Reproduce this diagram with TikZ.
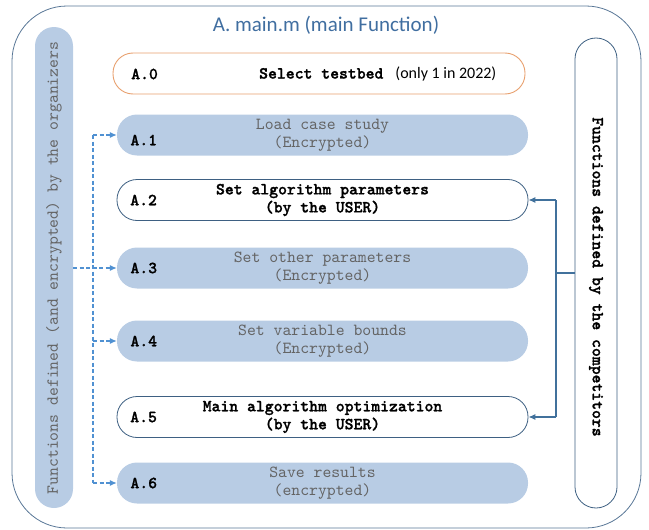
\documentclass[tikz,border=0pt]{standalone}
\usepackage{fontspec}
\setmainfont{Carlito}
\setmonofont{lmmono10-regular.otf}[BoldFont=lmmonolt10-bold.otf, BoldFeatures={FakeBold=1.2}]
\usetikzlibrary{calc,arrows.meta}
\definecolor{framecol}{RGB}{88,118,150}
\definecolor{titlecol}{RGB}{64,110,160}
\definecolor{stagefill}{RGB}{184,204,228}
\definecolor{usercol}{RGB}{62,96,130}
\definecolor{orangecol}{RGB}{232,160,110}
\definecolor{dashcol}{RGB}{80,145,210}
\definecolor{linkcol}{RGB}{65,113,156}
\definecolor{greytext}{RGB}{100,100,100}
\newcommand{\monotext}{\fontsize{16.9}{18}\selectfont\ttfamily}
\newcommand{\stagelbl}[2]{\node[lbl] (l#1) at ($(a#1.west)+(27,0)$) {#2};}

\tikzset{
  stagebox/.style={fill=stagefill, rounded corners=20pt, minimum width=411pt,
    minimum height=41pt, inner sep=0pt, align=center, font=\monotext, text=greytext},
  userbox/.style={stagebox, fill=white, draw=usercol, line width=0.8pt,
    text=black, font=\monotext\bfseries},
  lbl/.style={font=\monotext\bfseries, text=black, inner sep=0pt},
  dashlink/.style={dashcol, line width=1.1pt, dash pattern=on 4pt off 2.5pt},
  solidlink/.style={linkcol, line width=1.2pt}
}

\begin{document}
\begin{tikzpicture}[x=1pt, y=-1pt, >={Latex[length=7pt,width=6pt]}]
        \useasboundingbox (0,0) rectangle (649,530);
        % frame and title
        \node[draw=framecol, line width=0.8pt, rounded corners=55pt, minimum width=629pt,
          minimum height=522pt, inner sep=0pt] (mainfn) at (326.5,267) {};
        \node[font=\fontsize{21}{24}\selectfont, text=titlecol] (title) at (326,25) {A. main.m (main Function)};
        % side bars
        \node[fill=stagefill, rounded corners=19pt, minimum width=38pt, minimum height=481pt,
          inner sep=0pt] (orgbar) at (54,267.5) {};
        \node[rotate=90, font=\monotext, text=greytext] (orgtext) at (54,268)
          {Functions defined (and encrypted) by the organizers};
        \node[draw=usercol, line width=0.8pt, rounded corners=21pt, minimum width=42pt,
          minimum height=470pt, inner sep=0pt] (compbar) at (596,273) {};
        \node[rotate=-90, font=\monotext\bfseries] (comptext) at (596,277)
          {Functions defined by the competitors};
        % stages
        \node[stagebox, fill=white, draw=orangecol, line width=0.9pt, minimum width=412pt] (a0) at (319,73.5) {};
        \node[font=\monotext\bfseries, anchor=west, inner sep=0pt] (t0) at (259,74)
          {Select testbed\hspace{12pt}{\rmfamily\mdseries\fontsize{16}{18}\selectfont (only 1 in 2022)}};
        \node[stagebox] (a1) at (322.5,135) {Load case study\\(Encrypted)};
        \node[userbox] (a2) at (322.5,200) {Set algorithm parameters\\(by the USER)};
        \node[stagebox] (a3) at (322.5,268) {Set other parameters\\(Encrypted)};
        \node[stagebox] (a4) at (322.5,341) {Set variable bounds\\(Encrypted)};
        \node[userbox] (a5) at (322.5,417) {Main algorithm optimization\\(by the USER)};
        \node[stagebox] (a6) at (322.5,483) {Save results\\(encrypted)};
        % labels
        \node[lbl] (l0) at ($(a0.west)+(32,0.5)$) {A.0};
        \node[lbl] (l1) at ($(a1.west)+(27,5)$) {A.1};
        \stagelbl{2}{A.2}
        \stagelbl{3}{A.3}
        \stagelbl{4}{A.4}
        \stagelbl{5}{A.5}
        \stagelbl{6}{A.6}
        % organizer links
        \coordinate (spine) at (93,0);
        \draw[dashlink] (spine |- a1.west) -- (spine |- a6.west);
        \draw[dashlink,->] (spine |- a1.west) -- (a1.west);
        \draw[dashlink,->] (orgbar.east |- a3.west) -- (a3.west);
        \draw[dashlink,->] (spine |- a4.west) -- (a4.west);
        \draw[dashlink,->] (spine |- a6.west) -- (a6.west);
        % competitor links
        \coordinate (fork) at (556,273);
        \draw[solidlink] (compbar.west |- fork) -- (fork);
        \draw[solidlink] (fork |- a2.east) -- (fork |- a5.east);
        \draw[solidlink,->] (fork |- a2.east) -- (a2.east);
        \draw[solidlink,->] (fork |- a5.east) -- (a5.east);
    \end{tikzpicture}
\end{document}
